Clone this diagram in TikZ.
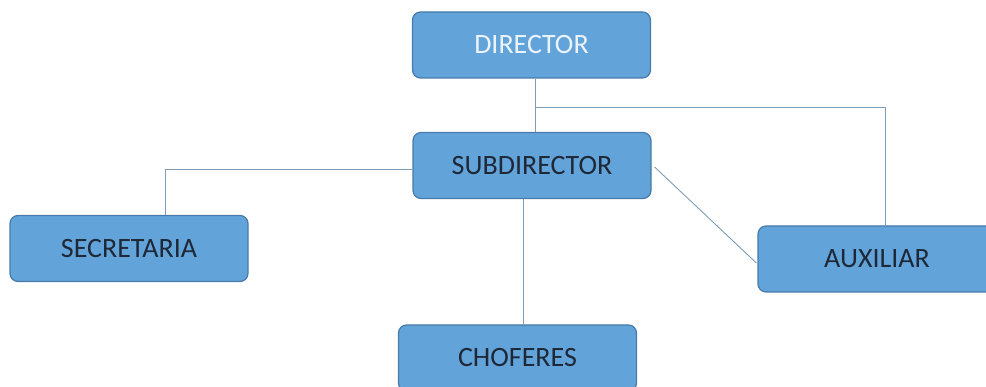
\documentclass[tikz,border=0pt]{standalone}
\usepackage{fontspec}
\setmainfont{Carlito}
\usetikzlibrary{calc}
\definecolor{boxfill}{RGB}{98,164,218}
\definecolor{boxline}{RGB}{72,122,170}
\definecolor{linkc}{RGB}{128,156,184}
\definecolor{darktext}{RGB}{30,40,54}
\definecolor{lighttext}{RGB}{236,243,250}
\tikzset{
  orgbox/.style={draw=boxline, line width=1.2pt, fill=boxfill, rounded corners=8pt,
    minimum width=238pt, minimum height=66pt, inner sep=0pt,
    font=\fontsize{28}{31}\selectfont, text=darktext},
  link/.style={draw=linkc, line width=0.9pt}
}
\begin{document}
\begin{tikzpicture}[x=1pt,y=-1pt]
\useasboundingbox (0,0) rectangle (986,387);
\clip (0,0) rectangle (986,387);
\node[orgbox, text=lighttext] (dir) at (531.5,45) {DIRECTOR};
\node[orgbox] (sub) at (532,165.5) {SUBDIRECTOR};
\node[orgbox] (sec) at (129,248.5) {SECRETARIA};
\node[orgbox] (aux) at (877,259) {AUXILIAR};
\node[orgbox] (cho) at (517.5,358) {CHOFERES};
\coordinate (xa) at (535,107);
\coordinate (xb) at (885,107);
\coordinate (xc) at (165,169);
\coordinate (xd) at (523,0);
\draw[link] (xa |- dir.south) -- (xa |- sub.north);
\draw[link] (xa) -- (xb) -- (xb |- aux.north);
\draw[link] (xc -| sub.west) -- (xc) -- (xc |- sec.north);
\draw[link] (xd |- sub.south) -- (xd |- cho.north);
\draw[link] ($(sub.east)+(3,1.5)$) -- ($(aux.west)+(-1,4)$);
\end{tikzpicture}
\end{document}
